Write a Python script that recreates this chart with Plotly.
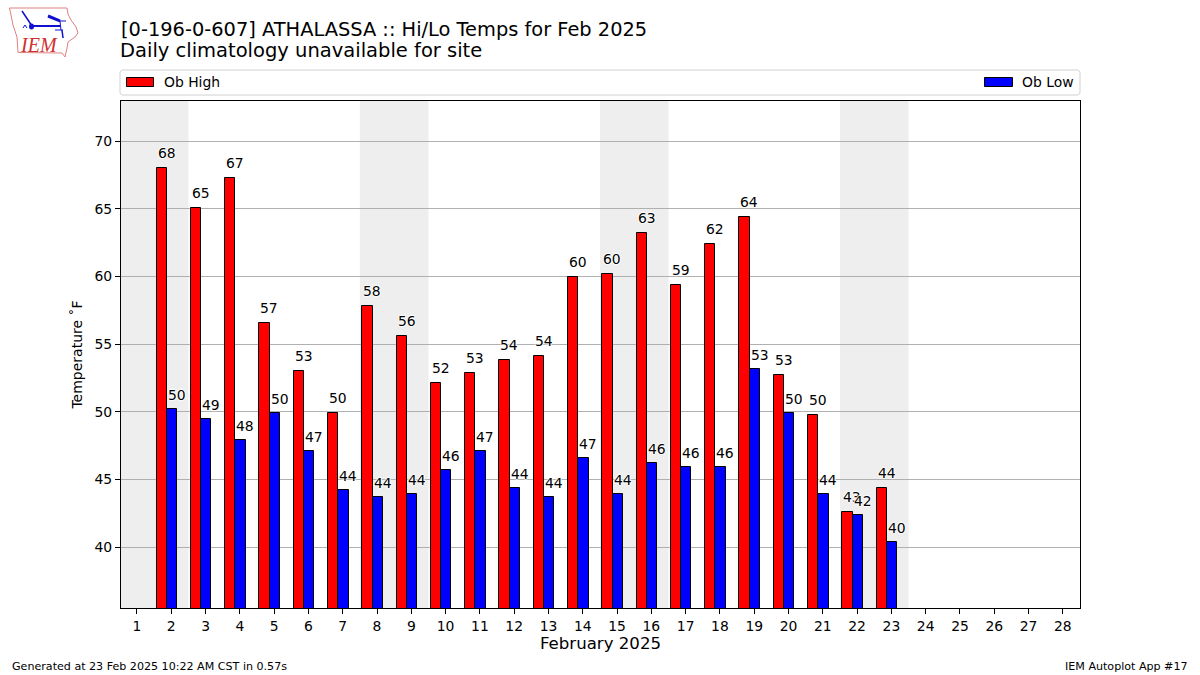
import plotly.graph_objects as go

days = list(range(1, 29))
obs_days = list(range(2, 24))
tick_days = days
ob_high = [68.0, 65.1, 67.3, 56.6, 53.0, 49.9, 57.8, 55.6, 52.1, 52.9, 53.8, 54.1, 60.0, 60.2, 63.2, 59.4, 62.4, 64.4, 52.7, 49.8, 42.6, 44.4]
ob_low = [50.2, 49.5, 47.9, 49.9, 47.1, 44.2, 43.7, 43.9, 45.7, 47.1, 44.4, 43.7, 46.6, 43.9, 46.2, 45.9, 45.9, 53.2, 49.9, 43.9, 42.4, 40.4]
high_labels = [68, 65, 67, 57, 53, 50, 58, 56, 52, 53, 54, 54, 60, 60, 63, 59, 62, 64, 53, 50, 43, 44]
low_labels = [50, 49, 48, 50, 47, 44, 44, 44, 46, 47, 44, 44, 47, 44, 46, 46, 46, 53, 50, 44, 42, 40]
weekend_starts = [1, 8, 15, 22]
y_ticks = [40, 45, 50, 55, 60, 65, 70]

W, H = 1200, 675
L, R, T, B = 121, 1080, 101, 608
FONT = "DejaVu Sans"
BAR_W = 0.3
HIGH_OFF, LOW_OFF = -0.43, -0.13
HALO = "-1px 0 1px white, 1px 0 1px white, 0 -1px 1px white, 0 1px 1px white"

def px(x):
    return (x - L) / (R - L)

def py(y):
    return 1 - (y - T) / (B - T)

def path(points, close=False):
    s = "M" + " L".join(f"{px(x):.5f},{py(y):.5f}" for x, y in points)
    return s + (" Z" if close else "")

fig = go.Figure()
fig.add_trace(go.Bar(x=obs_days, y=ob_high, width=BAR_W, offset=HIGH_OFF, name="Ob High",
                     marker=dict(color="#ff0000", line=dict(color="black", width=1))))
fig.add_trace(go.Bar(x=obs_days, y=ob_low, width=BAR_W, offset=LOW_OFF, name="Ob Low",
                     marker=dict(color="#0000ff", line=dict(color="black", width=1))))

annotations = []
for off, vals, labs, ys in ((HIGH_OFF, ob_high, high_labels, 5), (LOW_OFF, ob_low, low_labels, 4)):
    for d, v, t in zip(obs_days, vals, labs):
        annotations.append(dict(x=d + off, y=v, text=str(t), xref="x", yref="y", xanchor="left", yanchor="bottom",
                                showarrow=False, xshift=-1, yshift=ys, font=dict(family=FONT, size=13.9, color="black", shadow=HALO)))

def paper_text(x, y, text, size, anchor="left", color="black", family=FONT, **kw):
    return dict(x=px(x), y=py(y), xref="paper", yref="paper", text=text, showarrow=False, xanchor=anchor,
                yanchor="middle", font=dict(family=family, size=size, color=color), **kw)

annotations += [
    paper_text(118, 50.5, "Daily climatology unavailable for site", 19.5),
    paper_text(10, 666, "Generated at 23 Feb 2025 10:22 AM CST in 0.57s", 11.1),
    paper_text(1190, 666, "IEM Autoplot App #17", 11.1, anchor="right"),
    paper_text(18, 45, "<i>IEM</i>", 20, color="#d03030", family="Liberation Serif"),
    paper_text(162, 82, "Ob High", 13.9),
    paper_text(1076, 82, "Ob Low", 13.9, anchor="right"),
]

shapes = [dict(type="rect", xref="x", yref="paper", x0=s - 0.5, x1=s + 1.5, y0=0, y1=1,
               fillcolor="#eeeeee", line=dict(width=0), layer="below") for s in weekend_starts]

# legend frame and swatches
shapes.append(dict(type="path", xref="paper", yref="paper", layer="below",
                   path=path([(122, 70), (1078, 70), (1080, 72), (1080, 93), (1078, 95), (122, 95), (120, 93), (120, 72)], True),
                   line=dict(color="#d0d0d0", width=1), fillcolor="white"))
for x0, x1, color in ((126.5, 153.5, "#ff0000"), (984.5, 1012.5, "#0000ff")):
    shapes.append(dict(type="rect", xref="paper", yref="paper", layer="above", x0=px(x0), x1=px(x1), y0=py(86.5), y1=py(77.5),
                       fillcolor=color, line=dict(color="black", width=1)))

# IEM logo
shapes.append(dict(type="path", xref="paper", yref="paper", layer="above",
                   path=path([(9.5, 8), (67, 8), (68, 14), (71, 20), (76, 27), (78, 33), (75, 37), (68, 42), (67, 48), (65, 57), (62, 53), (18, 52.5), (17, 37), (13, 25), (11, 15)], True),
                   line=dict(color="#e08080", width=1)))
for pts, w in [([(33, 26), (60, 26)], 2), ([(22, 11), (32, 26)], 1.5), ([(48, 16), (58, 20), (60, 21)], 3),
               ([(58, 21), (66, 21)], 1), ([(60, 21), (61, 30)], 1), ([(55, 30), (63, 30)], 1), ([(62, 30), (63, 38)], 1.5),
               ([(23, 28), (25, 25), (27, 28)], 1)]:
    shapes.append(dict(type="path", xref="paper", yref="paper", layer="above", path=path(pts), line=dict(color="#1010d0", width=w)))
shapes.append(dict(type="circle", xref="paper", yref="paper", layer="above", x0=px(29), x1=px(34), y0=py(29.5), y1=py(23.5),
                   fillcolor="#1010d0", line=dict(width=0)))

fig.update_layout(
    width=W, height=H,
    margin=dict(l=L, r=W - R, t=T, b=H - B, autoexpand=False),
    paper_bgcolor="white", plot_bgcolor="white",
    font=dict(family=FONT, size=14, color="black"),
    title=dict(text="[0-196-0-607] ATHALASSA :: Hi/Lo Temps for Feb 2025", x=0, xanchor="left", xref="paper",
               y=1 - 29 / H, yanchor="middle", yref="container", font=dict(family=FONT, size=19.4)),
    barmode="overlay",
    bargap=0,
    showlegend=False,
    xaxis=dict(range=[0.534, 28.5], tickmode="array", tickvals=tick_days, ticktext=[str(d) for d in tick_days],
               ticks="outside", ticklen=5, tickwidth=1, tickcolor="black", showgrid=False, zeroline=False,
               showline=True, linecolor="black", linewidth=1, mirror=True,
               title=dict(text="February 2025", font=dict(size=16.6), standoff=4), tickfont=dict(size=13.9)),
    yaxis=dict(range=[35.50, 72.98], tickmode="array", tickvals=y_ticks, ticks="outside", ticklen=5, tickwidth=1,
               tickcolor="black", showgrid=True, gridcolor="#b0b0b0", gridwidth=1, zeroline=False,
               showline=True, linecolor="black", linewidth=1, mirror=True,
               title=dict(text="Temperature ˚F", font=dict(size=14), standoff=8), tickfont=dict(size=13.9)),
    annotations=annotations,
    shapes=shapes,
)

fig.write_html("out.html", config=dict(displayModeBar=False), post_script="document.body.style.margin='0';")
